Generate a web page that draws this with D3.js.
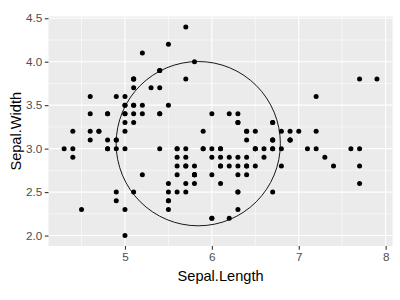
<!DOCTYPE html>
<html><head><meta charset="utf-8">
<script src="https://cdn.jsdelivr.net/npm/d3@7"></script>
<style>body{margin:0;background:#fff}svg{display:block}</style>
</head><body><svg id="c" width="400" height="300"></svg>
<script>
const sepalLength = [5.1,4.9,4.7,4.6,5.0,5.4,4.6,5.0,4.4,4.9,5.4,4.8,4.8,4.3,5.8,5.7,5.4,5.1,5.7,5.1,5.4,5.1,4.6,5.1,4.8,5.0,5.0,5.2,5.2,4.7,4.8,5.4,5.2,5.5,4.9,5.0,5.5,4.9,4.4,5.1,5.0,4.5,4.4,5.0,5.1,4.8,5.1,4.6,5.3,5.0,
7.0,6.4,6.9,5.5,6.5,5.7,6.3,4.9,6.6,5.2,5.0,5.9,6.0,6.1,5.6,6.7,5.6,5.8,6.2,5.6,5.9,6.1,6.3,6.1,6.4,6.6,6.8,6.7,6.0,5.7,5.5,5.5,5.8,6.0,5.4,6.0,6.7,6.3,5.6,5.5,5.5,6.1,5.8,5.0,5.6,5.7,5.7,6.2,5.1,5.7,
6.3,5.8,7.1,6.3,6.5,7.6,4.9,7.3,6.7,7.2,6.5,6.4,6.8,5.7,5.8,6.4,6.5,7.7,7.7,6.0,6.9,5.6,7.7,6.3,6.7,7.2,6.2,6.1,6.4,7.2,7.4,7.9,6.4,6.3,6.1,7.7,6.3,6.4,6.0,6.9,6.7,6.9,5.8,6.8,6.7,6.7,6.3,6.5,6.2,5.9];
const sepalWidth = [3.5,3.0,3.2,3.1,3.6,3.9,3.4,3.4,2.9,3.1,3.7,3.4,3.0,3.0,4.0,4.4,3.9,3.5,3.8,3.8,3.4,3.7,3.6,3.3,3.4,3.0,3.4,3.5,3.4,3.2,3.1,3.4,4.1,4.2,3.1,3.2,3.5,3.6,3.0,3.4,3.5,2.3,3.2,3.5,3.8,3.0,3.8,3.2,3.7,3.3,
3.2,3.2,3.1,2.3,2.8,2.8,3.3,2.4,2.9,2.7,2.0,3.0,2.2,2.9,2.9,3.1,3.0,2.7,2.2,2.5,3.2,2.8,2.5,2.8,2.9,3.0,2.8,3.0,2.9,2.6,2.4,2.4,2.7,2.7,3.0,3.4,3.1,2.3,3.0,2.5,2.6,3.0,2.6,2.3,2.7,3.0,2.9,2.9,2.5,2.8,
3.3,2.7,3.0,2.9,3.0,3.0,2.5,2.9,2.5,3.6,3.2,2.7,3.0,2.5,2.8,3.2,3.0,3.8,2.6,2.2,3.2,2.8,2.8,2.7,3.3,3.2,2.8,3.0,2.8,3.0,2.8,3.8,2.8,2.8,2.6,3.0,3.4,3.1,3.0,3.1,3.1,3.1,2.7,3.2,3.3,3.0,2.5,3.0,3.4,3.0];
const xTicks = [5, 6, 7, 8];
const yTicks = [2.0, 2.5, 3.0, 3.5, 4.0, 4.5];
const xMinor = [4.5, 5.5, 6.5, 7.5];
const yMinor = [2.25, 2.75, 3.25, 3.75, 4.25];
const circleRadius = 0.945;

const svg = d3.select("#c");
const L = 48.5, R = 392.6, T = 16.5, B = 246;
const x = d3.scaleLinear().domain([4.12, 8.08]).range([L, R]);
const y = d3.scaleLinear().domain([1.88, 4.52]).range([B, T]);

svg.append("rect").attr("x", L).attr("y", T).attr("width", R - L).attr("height", B - T).attr("fill", "#EBEBEB");
const g = svg.append("g");
g.selectAll(".xm").data(xMinor).enter().append("line")
  .attr("x1", d => x(d)).attr("x2", d => x(d)).attr("y1", T).attr("y2", B)
  .attr("stroke", "#fff").attr("stroke-width", 0.55);
g.selectAll(".ym").data(yMinor).enter().append("line")
  .attr("y1", d => y(d)).attr("y2", d => y(d)).attr("x1", L).attr("x2", R)
  .attr("stroke", "#fff").attr("stroke-width", 0.55);
g.selectAll(".xg").data(xTicks).enter().append("line")
  .attr("x1", d => x(d)).attr("x2", d => x(d)).attr("y1", T).attr("y2", B)
  .attr("stroke", "#fff").attr("stroke-width", 1.1);
g.selectAll(".yg").data(yTicks).enter().append("line")
  .attr("y1", d => y(d)).attr("y2", d => y(d)).attr("x1", L).attr("x2", R)
  .attr("stroke", "#fff").attr("stroke-width", 1.1);

const pts = sepalLength.map((v, i) => [v, sepalWidth[i]]);
svg.append("g").selectAll("circle").data(pts).enter().append("circle")
  .attr("cx", d => x(d[0])).attr("cy", d => y(d[1])).attr("r", 2.5).attr("fill", "#000");

const cx = d3.mean(sepalLength), cy = d3.mean(sepalWidth);
svg.append("ellipse")
  .attr("cx", x(cx)).attr("cy", y(cy))
  .attr("rx", x(cx + circleRadius) - x(cx))
  .attr("ry", y(cy) - y(cy + circleRadius))
  .attr("fill", "none").attr("stroke", "#000").attr("stroke-width", 0.9);

const xAxis = svg.append("g").attr("transform", `translate(0,${B})`)
  .call(d3.axisBottom(x).tickValues(xTicks).tickFormat(d3.format("d")).tickSizeOuter(0).tickSize(3.7).tickPadding(2.5));
const yAxis = svg.append("g").attr("transform", `translate(${L},0)`)
  .call(d3.axisLeft(y).tickValues(yTicks).tickFormat(d3.format(".1f")).tickSizeOuter(0).tickSize(3.7).tickPadding(2.5));
[xAxis, yAxis].forEach(a => {
  a.select(".domain").remove();
  a.selectAll("line").attr("stroke", "#333").attr("stroke-width", 1.1);
  a.selectAll("text").attr("fill", "#4D4D4D").style("font-family", "Arial, 'Liberation Sans', sans-serif").style("font-size", "11.7px");
});

svg.append("text").attr("x", (L + R) / 2).attr("y", 281).attr("text-anchor", "middle")
  .style("font-family", "Arial, 'Liberation Sans', sans-serif").style("font-size", "14.6px").attr("fill", "#000")
  .text("Sepal.Length");
svg.append("text").attr("transform", `translate(20.5,${(T + B) / 2}) rotate(-90)`).attr("text-anchor", "middle")
  .style("font-family", "Arial, 'Liberation Sans', sans-serif").style("font-size", "14.6px").attr("fill", "#000")
  .text("Sepal.Width");
</script></body></html>
